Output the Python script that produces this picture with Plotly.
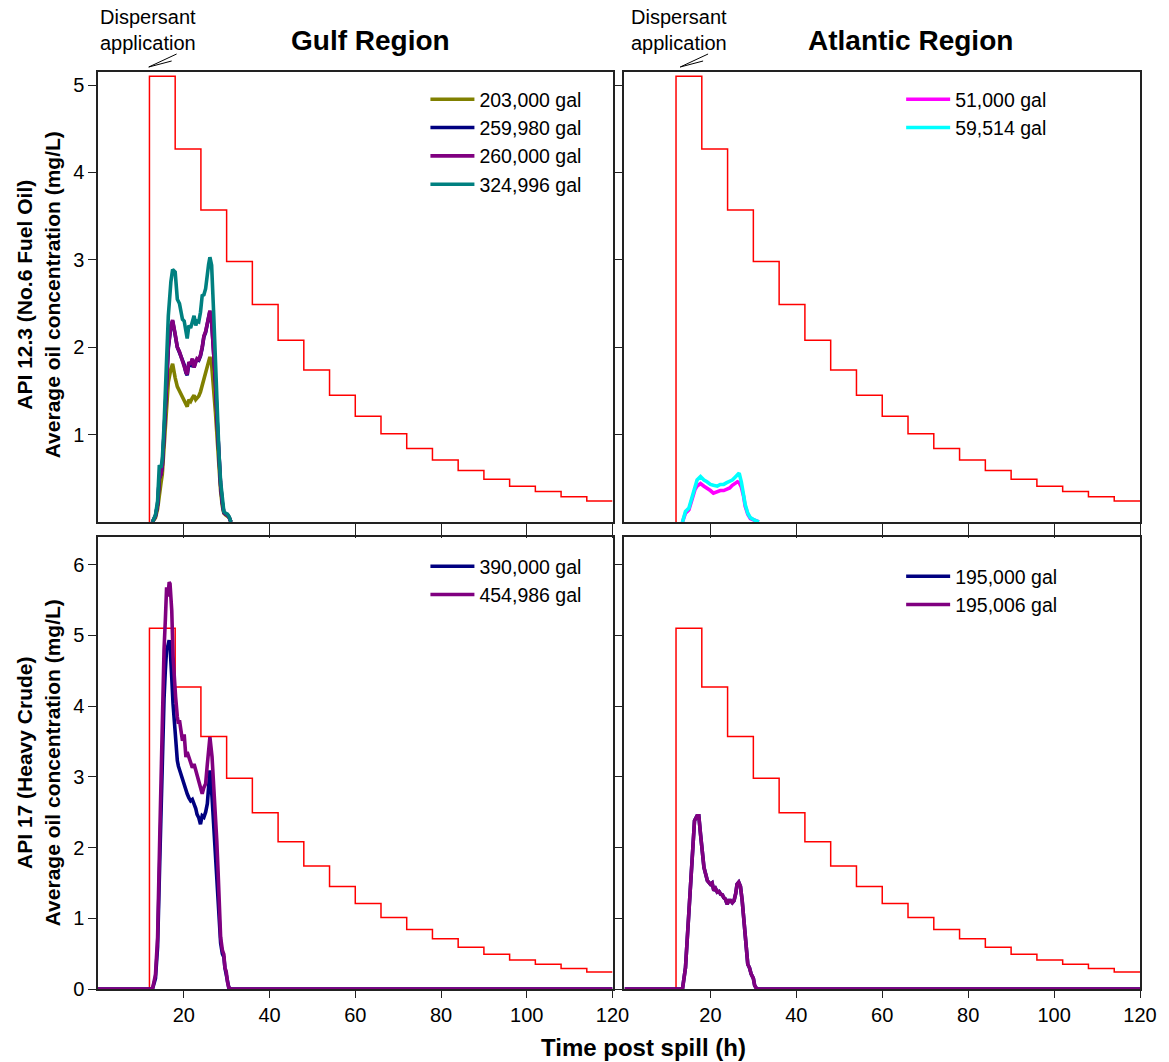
import plotly.graph_objects as go
from plotly.subplots import make_subplots

# ---------------- data ----------------
step_t = [12, 12, 18, 24, 30, 36, 42, 48, 54, 60, 66, 72, 78, 84, 90, 96, 102, 108, 114, 120]
step_c = [0, 5.1, 4.27, 3.57, 2.98, 2.49, 2.08, 1.74, 1.45, 1.21, 1.01, 0.84, 0.71, 0.59, 0.49, 0.41, 0.35, 0.29, 0.24, 0.24]

# Gulf, API 12.3
t_gulf_fuel = [12.7, 13.4, 13.9, 14.3, 14.7, 15.0, 15.4, 15.8, 16.4, 17.0, 17.4, 18.0, 18.5, 19.0, 19.3, 19.7,
               20.1, 20.5, 20.8, 21.2, 21.6, 22.0, 22.4, 22.8, 23.1, 23.5, 23.9, 24.3, 24.7, 25.1, 25.5, 25.8,
               26.1, 26.5, 27.0, 27.4, 27.8, 28.2, 28.6, 29.0, 29.35, 29.8, 30.2, 30.6, 31.0]
gulf_fuel_203000 = [0, 0.05, 0.15, 0.35, 0.45, 0.55, 0.85, 1.2, 1.6, 1.75, 1.81, 1.65, 1.55, 1.5, 1.47, 1.43,
                    1.4, 1.34, 1.32, 1.4, 1.38, 1.42, 1.45, 1.4, 1.42, 1.44, 1.49, 1.56, 1.64, 1.7, 1.79, 1.85,
                    1.89, 1.8, 1.55, 1.25, 0.95, 0.6, 0.35, 0.18, 0.1, 0.08, 0.07, 0.05, 0]
gulf_fuel_259980 = [0, 0.07, 0.2, 0.5, 0.55, 0.65, 1.0, 1.44, 1.99, 2.24, 2.3, 2.14, 2.0, 1.94, 1.9, 1.84,
                    1.8, 1.71, 1.68, 1.82, 1.8, 1.86, 1.77, 1.84, 1.86, 1.85, 1.9, 1.99, 2.12, 2.17, 2.26, 2.34,
                    2.41, 2.29, 1.94, 1.6, 1.15, 0.75, 0.42, 0.22, 0.11, 0.09, 0.08, 0.05, 0]
gulf_fuel_260000 = [0, 0.07, 0.2, 0.5, 0.55, 0.65, 1.0, 1.45, 2.0, 2.25, 2.31, 2.15, 2.0, 1.95, 1.9, 1.85,
                    1.8, 1.72, 1.69, 1.83, 1.8, 1.87, 1.77, 1.85, 1.87, 1.86, 1.91, 2.0, 2.13, 2.18, 2.27, 2.35,
                    2.42, 2.3, 1.95, 1.6, 1.15, 0.75, 0.42, 0.22, 0.11, 0.09, 0.08, 0.05, 0]
gulf_fuel_324996 = [0, 0.08, 0.24, 0.65, 0.62, 0.72, 1.1, 1.6, 2.36, 2.75, 2.89, 2.86, 2.55, 2.5, 2.44, 2.32,
                    2.3, 2.21, 2.1, 2.25, 2.22, 2.29, 2.36, 2.25, 2.3, 2.29, 2.4, 2.59, 2.6, 2.67, 2.89, 2.95,
                    3.03, 2.94, 2.36, 1.8, 1.22, 0.8, 0.46, 0.25, 0.12, 0.1, 0.09, 0.06, 0]

# Atlantic, API 12.3
t_atl_fuel = [13.5, 14.2, 15.0, 15.8, 16.4, 16.9, 17.7, 18.5, 19.2, 20.0, 20.7, 21.6, 22.3, 23.1, 23.8, 24.5,
              25.1, 25.7, 26.3, 26.7, 27.2, 27.7, 28.1, 28.7, 29.3, 30.3, 31.3]
atl_fuel_51000 = [0, 0.1, 0.14, 0.27, 0.37, 0.41, 0.44, 0.41, 0.39, 0.36, 0.33, 0.35, 0.36, 0.36, 0.37, 0.39,
                  0.42, 0.44, 0.46, 0.45, 0.4, 0.3, 0.18, 0.09, 0.04, 0.02, 0]
atl_fuel_59514 = [0, 0.12, 0.16, 0.31, 0.42, 0.48, 0.52, 0.48, 0.46, 0.43, 0.42, 0.41, 0.43, 0.43, 0.45, 0.47,
                  0.48, 0.51, 0.55, 0.56, 0.46, 0.33, 0.2, 0.1, 0.05, 0.02, 0]

# Gulf, API 17
t_gulf_crude = [0, 12.7, 13.4, 13.9, 14.4, 15.0, 15.4, 15.7, 16.0, 16.3, 16.6, 16.8, 17.0, 17.2, 17.5, 17.8,
                18.1, 18.5, 18.75, 19.0, 19.3, 19.7, 20.1, 20.5, 20.8, 21.2, 21.6, 22.0, 22.4, 22.8, 23.1, 23.5,
                23.9, 24.3, 24.7, 25.1, 25.5, 25.8, 26.1, 26.6, 27.0, 27.3, 27.7, 28.0, 28.3, 28.6, 29.0, 29.35,
                29.6, 29.9, 30.2, 30.5, 31.0, 120]
gulf_crude_390000 = [0, 0, 0.15, 0.6, 1.8, 3.4, 4.1, 4.5, 4.8, 4.85, 4.93, 4.85, 4.69, 4.4, 4.03, 3.75,
                     3.5, 3.23, 3.15, 3.1, 3.04, 2.95, 2.9, 2.8, 2.76, 2.7, 2.66, 2.68, 2.62, 2.55, 2.47, 2.42,
                     2.33, 2.45, 2.43, 2.5, 2.62, 2.9, 3.09, 2.71, 2.3, 1.9, 1.5, 1.2, 0.9, 0.65, 0.5, 0.45,
                     0.3, 0.22, 0.1, 0.02, 0, 0]
gulf_crude_454986 = [0, 0, 0.2, 0.73, 2.14, 4.03, 4.8, 5.21, 5.68, 5.55, 5.75, 5.73, 5.6, 5.35, 4.7, 4.35,
                     4.13, 3.85, 3.75, 3.8, 3.66, 3.51, 3.6, 3.28, 3.35, 3.28, 3.2, 3.13, 3.18, 3.09, 3.0, 2.9,
                     2.85, 2.76, 2.85, 2.9, 3.18, 3.4, 3.56, 3.28, 2.9, 2.62, 2.1, 1.67, 1.0, 0.73, 0.55, 0.49,
                     0.3, 0.25, 0.1, 0.02, 0, 0]

# Atlantic, API 17
t_atl_crude = [0, 13.5, 14.2, 15.0, 15.8, 16.3, 16.9, 17.3, 17.7, 18.1, 18.5, 19.3, 20.0, 20.4, 20.8, 21.2,
               21.6, 22.0, 22.4, 22.8, 23.1, 23.5, 23.9, 24.3, 24.7, 25.1, 25.5, 25.9, 26.2, 26.6, 27.0, 27.4,
               27.8, 28.1, 28.7, 29.1, 29.5, 30.0, 30.3, 30.8, 120]
atl_crude_195000 = [0, 0, 0.3, 1.1, 1.86, 2.38, 2.45, 2.45, 2.19, 1.9, 1.72, 1.53, 1.48, 1.5, 1.39, 1.42,
                    1.37, 1.38, 1.34, 1.33, 1.29, 1.27, 1.2, 1.25, 1.25, 1.22, 1.25, 1.35, 1.48, 1.51, 1.45, 1.25,
                    1.0, 0.77, 0.35, 0.3, 0.21, 0.15, 0.05, 0, 0]
atl_crude_195006 = [0, 0, 0.3, 1.1, 1.86, 2.38, 2.45, 2.45, 2.19, 1.9, 1.72, 1.53, 1.48, 1.5, 1.39, 1.42,
                    1.37, 1.38, 1.34, 1.33, 1.29, 1.27, 1.2, 1.25, 1.25, 1.22, 1.25, 1.35, 1.48, 1.51, 1.45, 1.25,
                    1.0, 0.77, 0.35, 0.3, 0.21, 0.15, 0.05, 0, 0]

x_ticks = [20, 40, 60, 80, 100, 120]

# ---------------- layout geometry ----------------
W, H = 1169, 1062
ML, MR, MT, MB = 98, 24, 72, 73
PW, PH = W - ML - MR, H - MT - MB


def pxx(px):
    return (px - ML) / PW


def pxy(py):
    return (H - MB - py) / PH


FONT = "Liberation Sans, Arial, sans-serif"
OLIVE, NAVY, PURPLE, TEAL = "#808000", "#000080", "#800080", "#008080"
MAGENTA, CYAN = "#FF00FF", "#00FFFF"

fig = make_subplots(rows=2, cols=2)

panels = [
    (1, 1, t_gulf_fuel, [("203,000 gal", gulf_fuel_203000, OLIVE), ("259,980 gal", gulf_fuel_259980, NAVY),
                         ("260,000 gal", gulf_fuel_260000, PURPLE), ("324,996 gal", gulf_fuel_324996, TEAL)], "legend"),
    (1, 2, t_atl_fuel, [("51,000 gal", atl_fuel_51000, MAGENTA), ("59,514 gal", atl_fuel_59514, CYAN)], "legend2"),
    (2, 1, t_gulf_crude, [("390,000 gal", gulf_crude_390000, NAVY), ("454,986 gal", gulf_crude_454986, PURPLE)], "legend3"),
    (2, 2, t_atl_crude, [("195,000 gal", atl_crude_195000, NAVY), ("195,006 gal", atl_crude_195006, PURPLE)], "legend4"),
]

for r, c, t, series, leg in panels:
    fig.add_trace(go.Scatter(x=step_t, y=step_c, mode="lines", line=dict(color="#FF0000", width=1.5, shape="hv"),
                             showlegend=False, hoverinfo="skip"), row=r, col=c)
    for name, vals, col in series:
        fig.add_trace(go.Scatter(x=t, y=vals, mode="lines", name=name, legend=leg,
                                 line=dict(color=col, width=3.6)), row=r, col=c)

# axes
xdom_l = [0, pxx(615)]
xdom_r = [pxx(627), 1]
ydom_t = [pxy(522), 1]
ydom_b = [0, pxy(537)]

axcommon = dict(showline=True, linecolor="#222222", linewidth=1.5, mirror=True, showgrid=False, zeroline=False,
                ticks="outside", tickcolor="#222222", tickwidth=1.3,
                tickfont=dict(family=FONT, size=20, color="black"))

fig.update_layout(
    xaxis=dict(domain=xdom_l, range=[0, 120], tickvals=x_ticks, showticklabels=False, ticklen=14, anchor="y", **axcommon),
    xaxis2=dict(domain=xdom_r, range=[0, 120], tickvals=x_ticks, showticklabels=False, ticklen=14, anchor="y2", **axcommon),
    xaxis3=dict(domain=xdom_l, range=[0, 120], tickvals=x_ticks, ticklen=7, anchor="y3", **axcommon),
    xaxis4=dict(domain=xdom_r, range=[0, 120], tickvals=x_ticks, ticklen=7, anchor="y4", **axcommon),
    yaxis=dict(domain=ydom_t, range=[0, 5.15], tickvals=[1, 2, 3, 4, 5], ticklen=8, anchor="x", **axcommon),
    yaxis2=dict(domain=ydom_t, range=[0, 5.15], tickvals=[1, 2, 3, 4, 5], showticklabels=False, ticklen=9, anchor="x2", **axcommon),
    yaxis3=dict(domain=ydom_b, range=[0, 6.39], tickvals=[0, 1, 2, 3, 4, 5, 6], ticklen=8, anchor="x3", **axcommon),
    yaxis4=dict(domain=ydom_b, range=[0, 6.39], tickvals=[0, 1, 2, 3, 4, 5, 6], showticklabels=False, ticklen=9, anchor="x4", **axcommon),
)

legcommon = dict(font=dict(family=FONT, size=19.5, color="black"), bgcolor="rgba(0,0,0,0)", borderwidth=0,
                 xanchor="left", yanchor="top", tracegroupgap=0, itemwidth=44)
fig.update_layout(
    legend=dict(x=pxx(427), y=pxy(80), **legcommon),
    legend2=dict(x=pxx(905), y=pxy(80), **legcommon),
    legend3=dict(x=pxx(427), y=pxy(547), **legcommon),
    legend4=dict(x=pxx(905), y=pxy(557), **legcommon),
)

annotations = []
for text, cx in [("Gulf Region", 372), ("Atlantic Region", 914)]:
    annotations.append(dict(text="<b>%s</b>" % text, x=pxx(cx), y=pxy(40), xref="paper", yref="paper",
                            showarrow=False, font=dict(family=FONT, size=28, color="black"),
                            xanchor="center", yanchor="middle"))
for cx in [148, 682]:
    annotations.append(dict(text="Dispersant<br>application", x=pxx(cx), y=pxy(30), xref="paper", yref="paper",
                            showarrow=False, font=dict(family=FONT, size=20, color="black"),
                            xanchor="center", yanchor="middle"))
annotations.append(dict(text="<b>API 12.3 (No.6 Fuel Oil)<br>Average oil concentration (mg/L)</b>", textangle=-90,
                        x=pxx(38), y=pxy(295), xref="paper", yref="paper", showarrow=False,
                        font=dict(family=FONT, size=21, color="black"), xanchor="center", yanchor="middle"))
annotations.append(dict(text="<b>API 17 (Heavy Crude)<br>Average oil concentration (mg/L)</b>", textangle=-90,
                        x=pxx(38), y=pxy(763), xref="paper", yref="paper", showarrow=False,
                        font=dict(family=FONT, size=21, color="black"), xanchor="center", yanchor="middle"))
annotations.append(dict(text="<b>Time post spill (h)</b>", x=pxx(646), y=pxy(1047), xref="paper", yref="paper",
                        showarrow=False, font=dict(family=FONT, size=24, color="black"),
                        xanchor="center", yanchor="middle"))

shapes = []
for dx in [0, 534]:
    tip = (149 + dx, 67)
    for end in [(177 + dx, 54), (172 + dx, 61)]:
        shapes.append(dict(type="line", xref="paper", yref="paper", x0=pxx(tip[0]), y0=pxy(tip[1]),
                           x1=pxx(end[0]), y1=pxy(end[1]), line=dict(color="black", width=1)))

fig.update_layout(width=W, height=H, margin=dict(l=ML, r=MR, t=MT, b=MB), plot_bgcolor="white",
                  paper_bgcolor="white", annotations=annotations, shapes=shapes,
                  font=dict(family=FONT, color="black"))

fig.write_html("out.html", post_script="document.body.style.margin='0';",
               config={"displayModeBar": False})
